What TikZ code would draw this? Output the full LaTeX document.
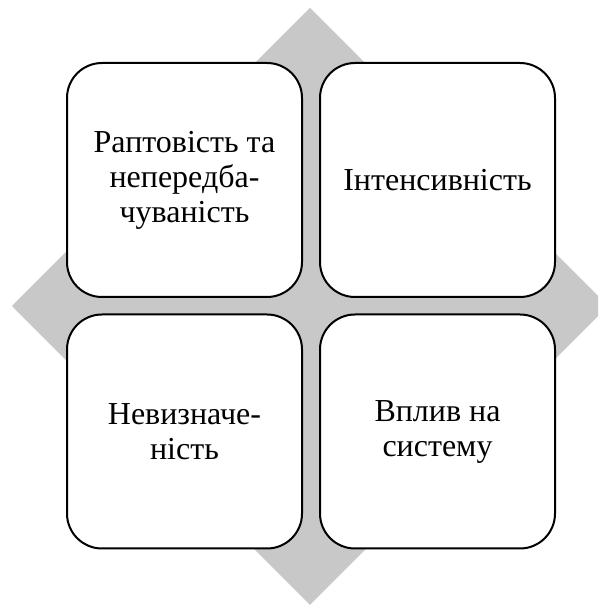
\documentclass[tikz,border=0pt]{standalone}
\usepackage{fontspec}
\setmainfont{Liberation Serif}
\definecolor{diamondgray}{RGB}{200,200,200}
\begin{document}
\begin{tikzpicture}[x=1pt,y=1pt,
  card/.style={draw=black, line width=2pt, fill=white, rounded corners=35pt,
    minimum width=235pt, minimum height=234pt, inner sep=0pt,
    align=center, font=\fontsize{32}{35}\selectfont}]
\useasboundingbox (0,0) rectangle (598,606);
\clip (0,0) rectangle (598,606);
\fill[diamondgray] (310,598) -- (608,300) -- (310,1) -- (12,300) -- cycle;
\node[card] (tl) at (184.5,426) {Раптовість та\\непередба-\\чуваність};
\node[card] (tr) at (437.5,426) {Інтенсивність};
\node[card] (bl) at (184.5,174.5) {Невизначе-\\ність};
\node[card] (br) at (437.5,174.5) {Вплив на\\систему};
\end{tikzpicture}
\end{document}
